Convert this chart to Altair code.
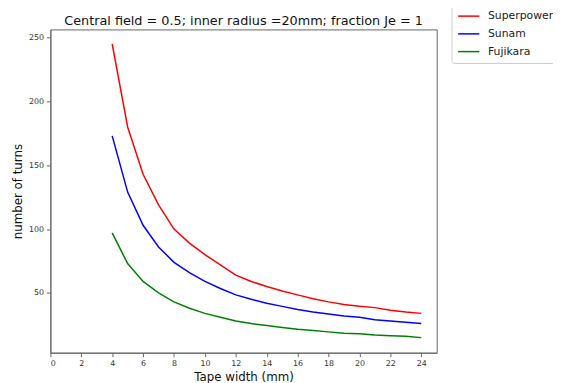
import altair as alt
import pandas as pd

widths = list(range(4, 25))
superpower = [245, 180, 143, 119, 100, 89, 80, 72, 64, 59, 55, 51.5, 48.5, 45.5, 43, 41, 39.5, 38.5, 36.5, 35, 34]
sunam = [173, 129, 103, 86, 74, 66, 59, 53.5, 48.5, 45, 42, 39.5, 37, 35, 33.5, 32, 31, 29, 28, 27, 26]
fujikara = [97, 73, 59, 50, 43, 38, 34, 31, 28, 26, 24.5, 23, 21.5, 20.5, 19.5, 18.5, 18, 17, 16.5, 16, 15]
series = ["Superpower", "Sunam", "Fujikara"]
colors = ["#ff0000", "#0000ff", "#008000"]
x_ticks = list(range(0, 25, 2))
y_ticks = [50, 100, 150, 200, 250]

rows = []
for name, vals in zip(series, [superpower, sunam, fujikara]):
    for w, v in zip(widths, vals):
        rows.append({"width": w, "turns": v, "tape": name})
df = pd.DataFrame(rows)

chart = alt.Chart(df).mark_line(strokeWidth=1.5).encode(
    x=alt.X("width:Q", title="Tape width (mm)",
            scale=alt.Scale(domain=[0, 25], nice=False, zero=False),
            axis=alt.Axis(values=x_ticks, grid=False)),
    y=alt.Y("turns:Q", title="number of turns",
            scale=alt.Scale(domain=[3.2, 256.4], nice=False, zero=False),
            axis=alt.Axis(values=y_ticks, grid=False)),
    color=alt.Color("tape:N", scale=alt.Scale(domain=series, range=colors),
                    sort=series,
                    legend=alt.Legend(title=None, orient="none", legendX=407, legendY=-31,
                                      symbolType="stroke", symbolSize=462, symbolStrokeWidth=1.5,
                                      labelFontSize=11, labelFont="DejaVu Sans", labelColor="#222",
                                      strokeColor="#cccccc", fillColor="white", padding=6,
                                      cornerRadius=3, rowPadding=1, labelOffset=8)),
    detail="tape:N",
).properties(
    width=392, height=328,
    title=alt.Title("Central field = 0.5; inner radius =20mm; fraction Je = 1",
                    fontSize=13, font="DejaVu Sans", fontWeight="normal", color="#111",
                    offset=0, dy=30, frame="group"),
    autosize=alt.AutoSizeParams(type="none"),
    padding={"left": 43, "top": 19, "right": 118, "bottom": 28},
).configure_view(
    stroke="#666", strokeWidth=1
).configure_axis(
    labelFont="DejaVu Sans", labelFontSize=8, labelColor="#333",
    titleFont="DejaVu Sans", titleFontSize=12, titleFontWeight="normal", titleColor="#111",
    domainColor="#666", tickColor="#666", tickSize=4, labelPadding=3, titlePadding=4,
)

chart.save("out.html", embed_options={"renderer": "svg", "actions": False})
